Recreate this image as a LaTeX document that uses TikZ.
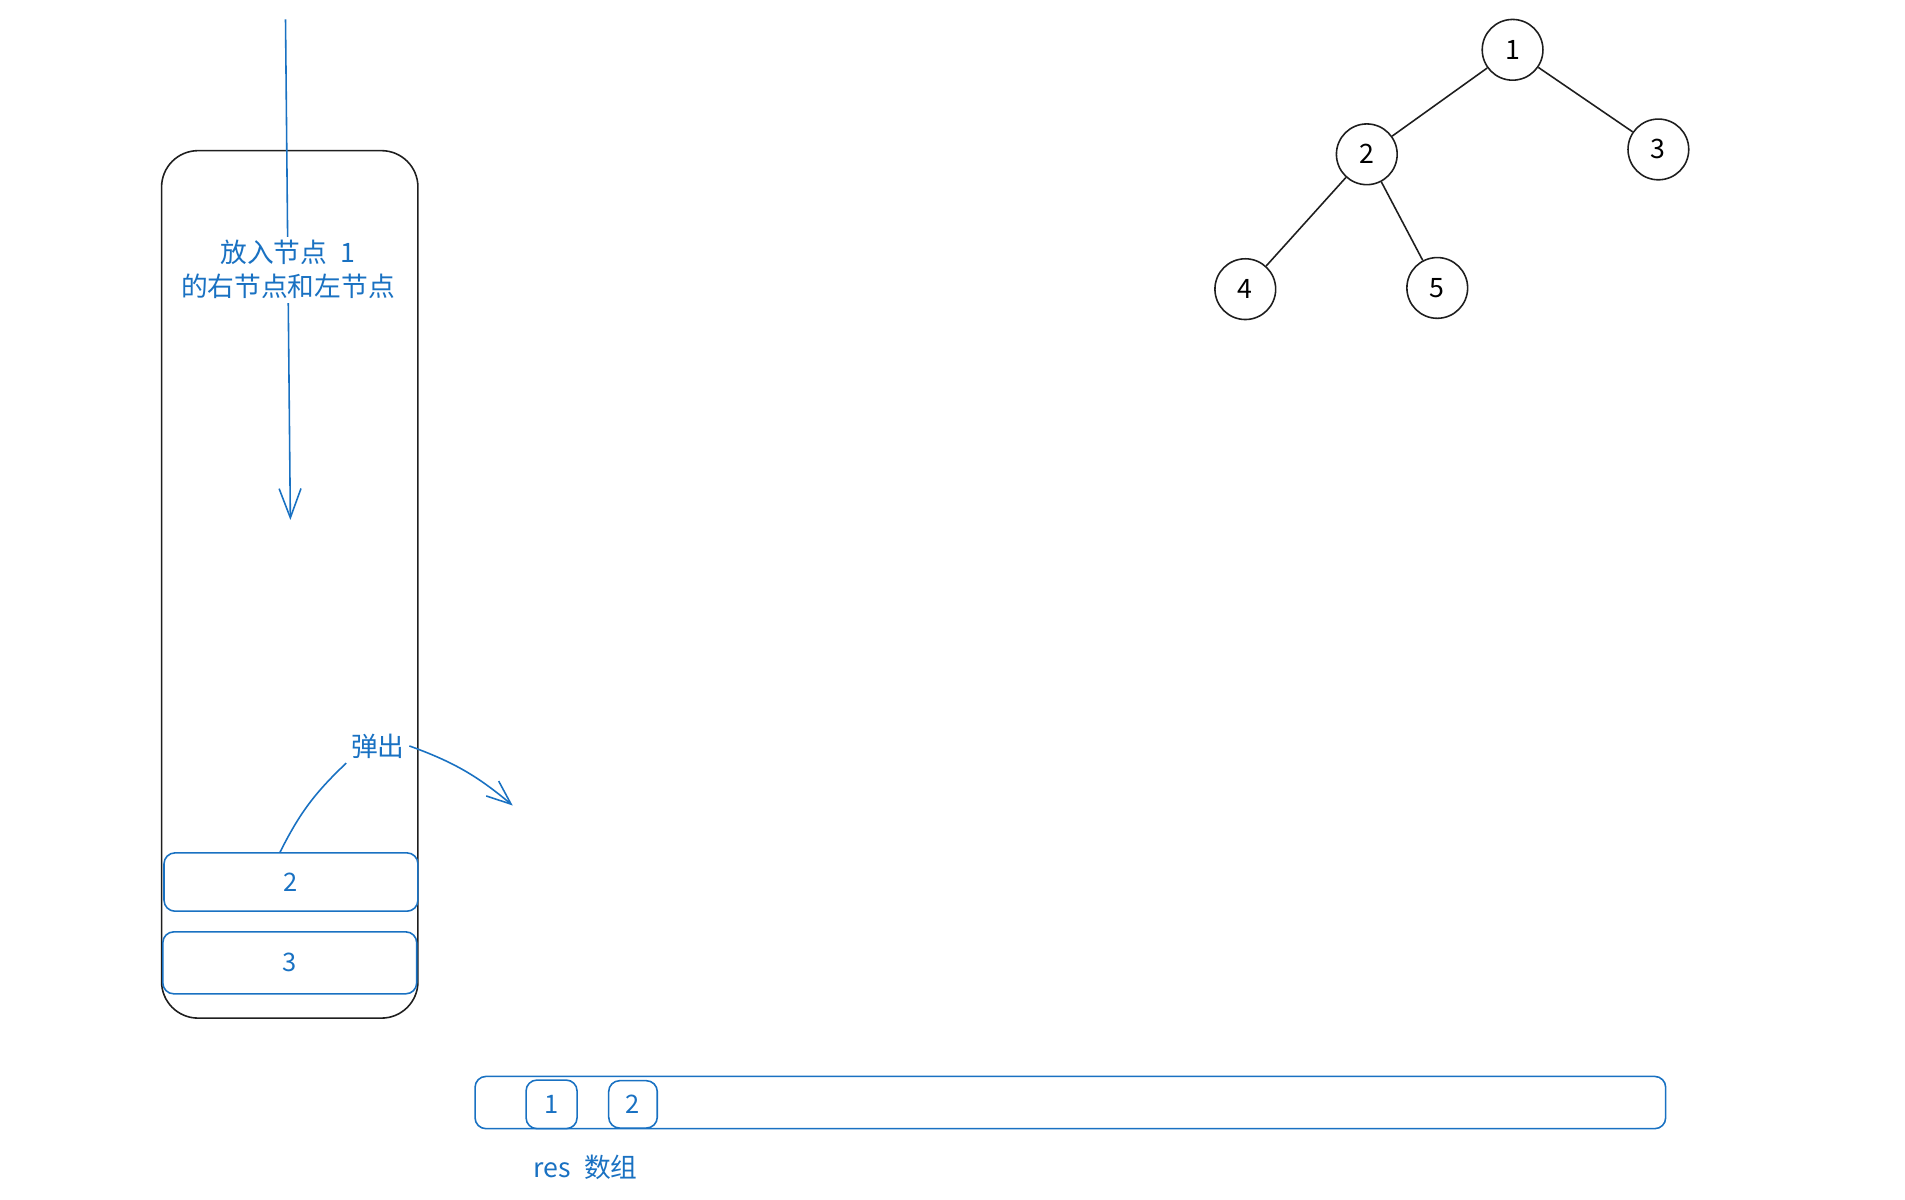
\documentclass[tikz,border=0pt]{standalone}
\usepackage{fontspec}
\setmainfont{Noto Sans CJK SC}
\usetikzlibrary{automata, positioning, arrows.meta, calc}
\definecolor{inkblue}{HTML}{1971C2}
\definecolor{inkblack}{HTML}{1E1E1E}

\begin{document}
\begin{tikzpicture}[x=1pt,y=-1pt,on grid,line width=1.3pt,
    every state/.style={draw=inkblack,minimum size=50pt,inner sep=0pt,font=\fontsize{22}{24}\selectfont},
    cell/.style={draw=inkblue,rounded corners=9pt,text=inkblue,font=\fontsize{21}{24}\selectfont},
    note/.style={text=inkblue,font=\fontsize{22}{28}\selectfont,align=center}]
    \useasboundingbox (0,0) rectangle (1568,987);

    \node[state] (t1) at (1245,41) {1};
    \node[state] (t2) [below left=86pt and 120pt of t1] {2};
    \node[state] (t3) [below right=82pt and 120pt of t1] {3};
    \node[state] (t4) [below left=111pt and 100pt of t2] {4};
    \node[state] (t5) [below right=110pt and 58pt of t2] {5};

    \node[draw=inkblack, rounded corners=30pt, minimum width=211pt, minimum height=714pt] (stack) at (238.5,481) {};
    \node[cell, minimum width=209pt, minimum height=48pt] (s2) at (239.5,726) {2};
    \node[cell, minimum width=209pt, minimum height=51pt] (s3) at (238.5,792.5) {3};

    \coordinate (pushfrom) at (235,16);
    \coordinate (pushto) at (239,428);
    \node[note] (pop) at (311,614) {弹出};
    \coordinate (popto) at (422,663);

    \node[cell, minimum width=980pt, minimum height=43pt] (res) at (881,907.5) {};
    \node[cell, minimum width=42pt, minimum height=40pt] (r1) at (454,909) {1};
    \node[cell, minimum width=40pt, minimum height=39pt] (r2) [right=67pt of r1] {2};
    \node[note] (reslabel) at (482,961) {res\enspace 数组};

    \path[draw=inkblack]
    (t1) edge (t2)
    (t1) edge (t3)
    (t2) edge (t4)
    (t2) edge (t5)
    ;

    \draw[inkblue, -{Straight Barb[length=24pt,width=18pt]}] (pushfrom) -- node[note, fill=white, inner sep=3pt] {放入节点\enspace 1\\的右节点和左节点} (pushto);
    \draw[inkblue] (s2.110) to[bend left=10] (pop.south west);
    \draw[inkblue, -{Straight Barb[length=20pt,width=16pt]}] (pop.east) to[bend left=10] (popto);
\end{tikzpicture}
\end{document}
